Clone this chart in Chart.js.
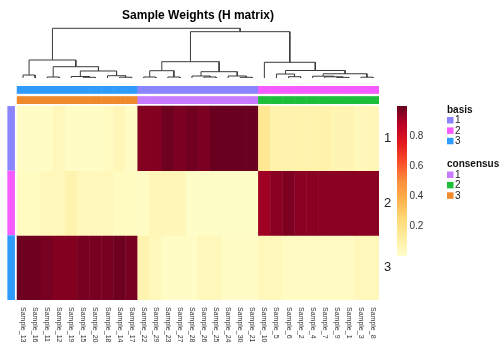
<!DOCTYPE html>
<html>
<head>
<meta charset="utf-8">
<script src="https://cdn.jsdelivr.net/npm/chart.js@4.4.1/dist/chart.umd.min.js"></script>
<style>
  html, body { margin: 0; padding: 0; background: #ffffff; }
  #wrap { position: relative; width: 504px; height: 360px; }
</style>
</head>
<body>
<div id="wrap"><canvas id="c" width="504" height="360"></canvas></div>
<script>
// ---------------- DATA ----------------
const samples = ['Sample_13','Sample_16','Sample_11','Sample_12','Sample_19','Sample_15','Sample_20','Sample_18','Sample_14','Sample_17',
                 'Sample_22','Sample_29','Sample_23','Sample_27','Sample_28','Sample_26','Sample_25','Sample_24','Sample_30','Sample_21',
                 'Sample_10','Sample_5','Sample_6','Sample_2','Sample_4','Sample_7','Sample_9','Sample_1','Sample_3','Sample_8'];
const basisLabels = ['1', '2', '3'];
const weightsBasis1 = [0.02,0.02,0.02,0.05,0.02,0.02,0.02,0.03,0.06,0.02,
                       0.96,0.96,0.99,0.97,0.985,0.97,0.995,0.995,0.995,0.995,
                       0.16,0.09,0.09,0.085,0.085,0.09,0.07,0.075,0.05,0.06];
const weightsBasis2 = [0.03,0.03,0.05,0.05,0.08,0.05,0.05,0.05,0.03,0.03,
                       0.02,0.06,0.06,0.06,0.015,0.015,0.015,0.015,0.015,0.015,
                       0.917,0.949,0.967,0.95,0.95,0.95,0.95,0.95,0.95,0.95];
const weightsBasis3 = [0.99,0.99,0.975,0.96,0.96,0.975,0.975,0.975,0.99,0.975,
                       0.08,0.05,0.02,0.02,0.02,0.05,0.05,0.02,0.02,0.02,
                       0.05,0.05,0.025,0.025,0.025,0.025,0.025,0.025,0.05,0.05];
const basisAnnotation     = [3,3,3,3,3,3,3,3,3,3, 1,1,1,1,1,1,1,1,1,1, 2,2,2,2,2,2,2,2,2,2];
const consensusAnnotation = [3,3,3,3,3,3,3,3,3,3, 1,1,1,1,1,1,1,1,1,1, 2,2,2,2,2,2,2,2,2,2];
const colorbarTicks = [0.2, 0.4, 0.6, 0.8];
const legendLevels = ['1', '2', '3'];
// dendrogram merges (hclust style): negative = leaf -(column+1), positive = merge row (1-based); last = height
const dendroMerges = [
  [-1,-2,0.060], [-3,-4,0.020], [-6,-7,0.014], [-5,3,0.030], [-9,-10,0.016], [-8,5,0.046],
  [4,6,0.141], [2,7,0.227], [1,8,0.362],
  [-11,-12,0.020], [-13,-14,0.020], [10,11,0.147], [-16,-17,0.020], [-15,13,0.040],
  [-19,-20,0.014], [-18,15,0.040], [14,16,0.127], [12,17,0.328],
  [-23,-24,0.026], [-22,19,0.080], [-27,-28,0.012], [-26,21,0.024], [-25,22,0.036],
  [-29,-30,0.016], [23,24,0.085], [20,25,0.151], [-21,26,0.316],
  [18,27,0.932], [9,28,1.000]
];

// ---------------- STYLE / LAYOUT ----------------
const FONT = '"Liberation Sans", Arial, Helvetica, sans-serif';
const paletteStops = ['#FFFFCC','#FFEDA0','#FED976','#FEB24C','#FD8D3C','#FC4E2A','#E31A1C','#BD0026','#67001F'];
const basisColors = { '1': '#8A85FF', '2': '#F55BFF', '3': '#2F9BFF' };
const consensusColors = { '1': '#C77CFF', '2': '#1DBF3A', '3': '#EF8A2B' };
const L = {
  chartLeft: 3, heatLeft: 17, heatRight: 379, rightAxisW: 14,
  chartTop: 26, heatTop: 106, heatBottom: 300,
  dendBase: 78, dendTop: 28.3,
  basisBar: [86.3, 93.5], consBar: [96.5, 103.7],
  rowAnno: [7.3, 15],
  cbarX: 397, cbarW: 10, cbarH: 150,
  legX: 447
};
const nCols = samples.length;
const colW = (L.heatRight - L.heatLeft) / nCols;
const rowH = (L.heatBottom - L.heatTop) / 3;
const xv = px => (px - L.heatLeft) / colW;
const yv = px => (L.heatBottom - px) / rowH;
const rootH = Math.max(...dendroMerges.map(m => m[2]));
const dppu = (L.dendBase - L.dendTop) / rootH;

function hexToRgb(h) { return [1,3,5].map(i => parseInt(h.slice(i, i + 2), 16)); }
const stopRgb = paletteStops.map(hexToRgb);
function colorFor(v) {
  const t = Math.max(0, Math.min(1, v)) * (stopRgb.length - 1);
  const i = Math.min(stopRgb.length - 2, Math.floor(t));
  const f = t - i;
  const c = stopRgb[i].map((a, k) => Math.round(a + (stopRgb[i + 1][k] - a) * f));
  return `rgb(${c[0]},${c[1]},${c[2]})`;
}

// ---------------- DATASETS ----------------
const datasets = [];
[weightsBasis1, weightsBasis2, weightsBasis3].forEach((vals, r) => {
  datasets.push({
    type: 'bar', label: 'basis ' + basisLabels[r], xAxisID: 'x', yAxisID: 'y',
    data: vals.map((v, i) => ({ x: i + 0.5, y: [2 - r, 3 - r] })),
    backgroundColor: vals.map(colorFor),
    borderWidth: 0, grouped: false, barPercentage: 1, categoryPercentage: 1
  });
});
datasets.push({
  type: 'bar', label: 'basis annotation', xAxisID: 'x', yAxisID: 'y',
  data: basisAnnotation.map((c, i) => ({ x: i + 0.5, y: [yv(L.basisBar[1]), yv(L.basisBar[0])] })),
  backgroundColor: basisAnnotation.map(c => basisColors[c]),
  borderWidth: 0, grouped: false, barPercentage: 1, categoryPercentage: 1
});
datasets.push({
  type: 'bar', label: 'consensus annotation', xAxisID: 'x', yAxisID: 'y',
  data: consensusAnnotation.map((c, i) => ({ x: i + 0.5, y: [yv(L.consBar[1]), yv(L.consBar[0])] })),
  backgroundColor: consensusAnnotation.map(c => consensusColors[c]),
  borderWidth: 0, grouped: false, barPercentage: 1, categoryPercentage: 1
});
const rowAnnoCenter = xv((L.rowAnno[0] + L.rowAnno[1]) / 2);
datasets.push({
  type: 'bar', label: 'row annotation', xAxisID: 'x', yAxisID: 'y',
  data: basisLabels.map((b, r) => ({ x: rowAnnoCenter, y: [2 - r, 3 - r] })),
  backgroundColor: basisLabels.map(b => basisColors[b]),
  borderWidth: 0, grouped: false,
  barPercentage: (L.rowAnno[1] - L.rowAnno[0]) / colW, categoryPercentage: 1
});
// dendrogram
const nodeX = [], nodeH = [];
function child(id) {
  if (id < 0) return { x: -id - 1 + 0.5, h: 0 };
  return { x: nodeX[id - 1], h: nodeH[id - 1] };
}
dendroMerges.forEach(([a, b, h], k) => {
  const A = child(a), B = child(b);
  nodeX[k] = (A.x + B.x) / 2; nodeH[k] = h;
  datasets.push({
    type: 'line', label: 'node ' + (k + 1), xAxisID: 'x', yAxisID: 'yd',
    data: [{ x: A.x, y: A.h }, { x: A.x, y: h }, { x: B.x, y: h }, { x: B.x, y: B.h }],
    borderColor: '#3a3a3a', borderWidth: 1, pointRadius: 0, fill: false, tension: 0
  });
});

// ---------------- PLUGIN (labels, colorbar, legend) ----------------
const extras = {
  id: 'extras',
  afterDraw(chart) {
    const ctx = chart.ctx, xs = chart.scales.x, ys = chart.scales.y;
    ctx.save();
    // column labels (rotated, top-to-bottom)
    ctx.fillStyle = '#333333';
    ctx.font = '7px ' + FONT;
    ctx.textAlign = 'left'; ctx.textBaseline = 'middle';
    samples.forEach((s, i) => {
      const px = xs.getPixelForValue(i + 0.5);
      ctx.save();
      ctx.translate(px, chart.chartArea.bottom + 7);
      ctx.rotate(Math.PI / 2);
      ctx.fillText(s, 0, 0);
      ctx.restore();
    });
    // colorbar
    const top = ys.getPixelForValue(3), bot = top + L.cbarH;
    const g = ctx.createLinearGradient(0, bot, 0, top);
    paletteStops.forEach((c, i) => g.addColorStop(i / (paletteStops.length - 1), c));
    ctx.fillStyle = g;
    ctx.fillRect(L.cbarX, top, L.cbarW, L.cbarH);
    ctx.fillStyle = '#333333';
    ctx.font = '10px ' + FONT;
    ctx.textAlign = 'left'; ctx.textBaseline = 'middle';
    colorbarTicks.forEach(t => ctx.fillText(String(t), L.cbarX + L.cbarW + 2.5, bot - t * L.cbarH));
    // legends
    const drawGroup = (title, colors, y0) => {
      ctx.fillStyle = '#111111';
      ctx.font = 'bold 10px ' + FONT;
      ctx.fillText(title, L.legX, y0);
      ctx.font = '10px ' + FONT;
      legendLevels.forEach((lv, i) => {
        const cy = y0 + 10 + i * 10.4;
        ctx.fillStyle = colors[lv];
        ctx.fillRect(L.legX, cy - 3, 6.5, 6.5);
        ctx.fillStyle = '#222222';
        ctx.fillText(lv, L.legX + 8, cy + 0.5);
      });
    };
    drawGroup('basis', basisColors, 110);
    drawGroup('consensus', consensusColors, 164.5);
    ctx.restore();
  }
};

// ---------------- CHART ----------------
new Chart(document.getElementById('c'), {
  type: 'bar',
  data: { datasets },
  options: {
    responsive: false, animation: false, devicePixelRatio: 1, events: [],
    layout: { padding: { left: L.chartLeft, right: 504 - L.heatRight - L.rightAxisW, top: 0, bottom: 0 } },
    plugins: {
      legend: { display: false }, tooltip: { enabled: false },
      title: {
        display: true, text: 'Sample Weights (H matrix)', color: '#000000',
        font: { family: FONT, size: 12, weight: 'bold' },
        padding: { top: 8, bottom: 3.6 }
      }
    },
    scales: {
      x: {
        type: 'linear', position: 'bottom', offset: false, bounds: 'data',
        min: xv(L.chartLeft), max: nCols,
        grid: { display: false, offset: false }, border: { display: false },
        ticks: { display: false },
        afterBuildTicks: ax => { ax.ticks = samples.map((s, i) => ({ value: i + 0.5 })); },
        afterFit: ax => { ax.height = 360 - L.heatBottom; }
      },
      y: {
        type: 'linear', position: 'right', bounds: 'data',
        min: 0, max: yv(L.chartTop),
        grid: { display: false, drawTicks: false }, border: { display: false },
        ticks: {
          padding: 5, color: '#222222', font: { family: FONT, size: 13 },
          callback: v => basisLabels[2 - Math.floor(v)]
        },
        afterBuildTicks: ax => { ax.ticks = basisLabels.map((b, r) => ({ value: 2.5 - r })); },
        afterFit: ax => { ax.width = L.rightAxisW; }
      },
      yd: {
        type: 'linear', display: false, bounds: 'data',
        min: -(L.heatBottom - L.dendBase) / dppu, max: (L.dendBase - L.chartTop) / dppu
      }
    }
  },
  plugins: [extras]
});
</script>
</body>
</html>
